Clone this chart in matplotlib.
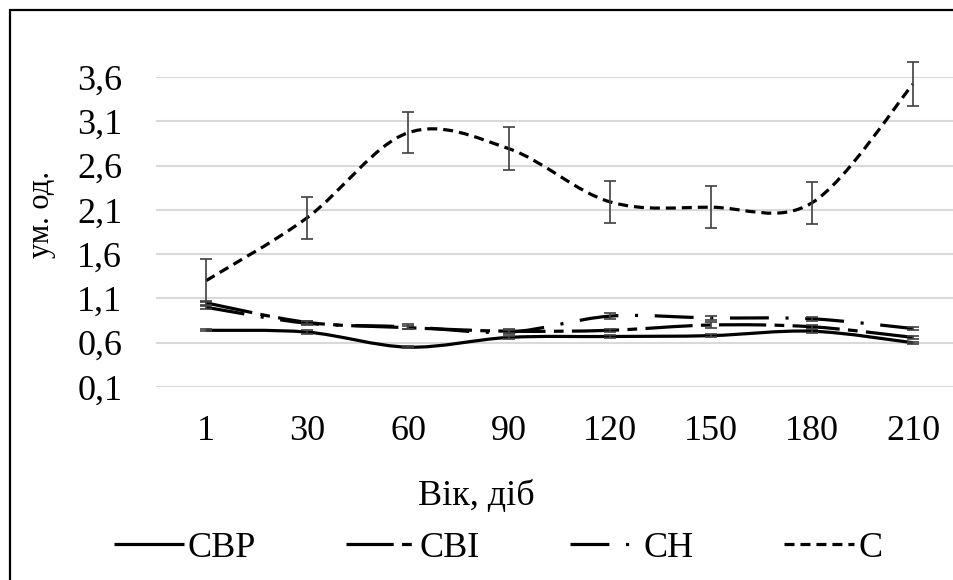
"""
Age dynamics of four indices (ум. од.) with smoothed lines
"""

import numpy as np
import matplotlib.pyplot as plt
from matplotlib.path import Path
from matplotlib.patches import PathPatch, Rectangle
from matplotlib.lines import Line2D

plt.rcParams['font.family'] = ['Liberation Serif', 'DejaVu Serif']
plt.rcParams['lines.scale_dashes'] = False

ages = ['1', '30', '60', '90', '120', '150', '180', '210']
y_ticks = [0.1, 0.6, 1.1, 1.6, 2.1, 2.6, 3.1, 3.6]

cbp = [0.74, 0.72, 0.55, 0.66, 0.67, 0.68, 0.73, 0.60]
cbi = [1.05, 0.83, 0.77, 0.73, 0.74, 0.80, 0.78, 0.66]
ch = [1.00, 0.82, 0.78, 0.72, 0.90, 0.88, 0.87, 0.76]
c = [1.30, 2.01, 2.97, 2.79, 2.19, 2.13, 2.18, 3.52]

cbp_err = [0.01, 0.02, 0.01, 0.02, 0.02, 0.02, 0.02, 0.01]
cbi_err = [0.02, 0.02, 0.02, 0.02, 0.02, 0.03, 0.02, 0.02]
ch_err = [0.02, 0.02, 0.03, 0.02, 0.03, 0.02, 0.02, 0.02]
c_err = [0.24, 0.24, 0.23, 0.24, 0.24, 0.24, 0.24, 0.25]

names = ['СВР', 'СВІ', 'СН', 'С']


def smooth_path(x, y):
    """Bezier path through the points (Excel-like smoothing)."""
    pts = np.column_stack([x, y]).astype(float)
    n = len(pts)
    verts = [pts[0]]
    codes = [Path.MOVETO]
    for i in range(n - 1):
        p0 = pts[i - 1] if i > 0 else pts[i]
        p1 = pts[i]
        p2 = pts[i + 1]
        p3 = pts[i + 2] if i + 2 < n else pts[i + 1]
        verts += [p1 + (p2 - p0) / 6, p2 - (p3 - p1) / 6, p2]
        codes += [Path.CURVE4] * 3
    return Path(verts, codes)


fig = plt.figure(figsize=(9.54, 5.8), dpi=100)
W, H = 954, 580
left, right, bottom, top = 155.5, 963.5, 387, 77
ax = fig.add_axes([left / W, 1 - bottom / H, (right - left) / W, (bottom - top) / H])

x = np.arange(len(ages))
styles = [
    (cbp, cbp_err, (0, ())),
    (cbi, cbi_err, (0, (34, 6, 7, 6))),
    (ch, ch_err, (0, (28, 12, 2.2, 12))),
    (c, c_err, (0, (7.2, 4.3))),
]

handles = []
for (vals, err, ls), name in zip(styles, names):
    ax.add_patch(PathPatch(smooth_path(x, vals), fill=False, edgecolor='black',
                           linewidth=2.3, linestyle=ls, capstyle='butt', zorder=3,
                           clip_on=False))
    ax.errorbar(x, vals, yerr=err, fmt='none', ecolor='#404040', elinewidth=1.2,
                capsize=4, capthick=1.2, zorder=4, clip_on=False)
    handles.append(Line2D([0], [0], color='black', linewidth=2.3, linestyle=ls,
                          dash_capstyle='butt'))

ax.set_xlim(-0.5, len(ages) - 0.5)
ax.set_ylim(0.1, 3.6)
ax.set_xticks(x)
ax.set_xticklabels(ages)
ax.set_yticks(y_ticks)
ax.set_yticklabels([f'{v:.1f}'.replace('.', ',') for v in y_ticks])
ax.tick_params(axis='both', length=0, labelsize=26)
ax.tick_params(axis='x', pad=20)
ax.tick_params(axis='y', pad=24)
ax.grid(axis='y', color='#d9d9d9', linewidth=1.5)
ax.set_axisbelow(True)
for s in ax.spines.values():
    s.set_visible(False)

ax.text((476 - left) / (right - left), (bottom - 497) / (bottom - top), 'Вік, діб',
        transform=ax.transAxes, fontsize=26, ha='center', va='center')
ax.text((42 - left) / (right - left), (bottom - 214) / (bottom - top), 'ум. од.',
        transform=ax.transAxes, fontsize=22, ha='center', va='center', rotation=90)

fig.legend(handles, names, loc='center', bbox_to_anchor=(498 / W, 1 - 548 / H), ncol=4,
           frameon=False, fontsize=26, handlelength=1.94, handletextpad=0.1,
           columnspacing=2.5, borderpad=0, borderaxespad=0)

# chart border (right and bottom parts are cropped in the source)
fig.patches.append(Rectangle((10 / W, -0.1), 1.2, 1 - 10 / H + 0.1,
                             transform=fig.transFigure, fill=False,
                             edgecolor='black', linewidth=1.6))

fig.savefig('out.png', dpi=100)
